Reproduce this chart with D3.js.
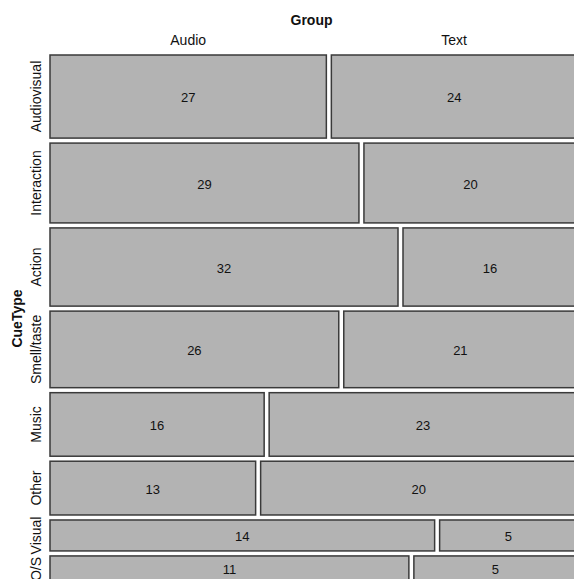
<!DOCTYPE html>
<html>
<head>
<meta charset="utf-8">
<script src="https://cdn.jsdelivr.net/npm/d3@7"></script>
<style>
  body { margin: 0; background: #fff; }
  svg text { font-family: "Liberation Sans", Arial, sans-serif; fill: #111; }
</style>
</head>
<body>
<div id="chart"></div>
<script>
// mosaic data: CueType x Group
var cueTypes = ["Audiovisual", "Interaction", "Action", "Smell/taste", "Music", "Other", "Visual", "O/S"];
var groups = ["Audio", "Text"];
var audioCounts = [27, 29, 32, 26, 16, 13, 14, 11];
var textCounts = [24, 20, 16, 21, 23, 20, 5, 5];

function drawMosaic() {
    var w = 574, h = 579;
    var mLeft = 50, mTop = 55, mRight = 577, mBottom = 582;
    var gap = 5;

    var svg = d3.select("#chart").append("svg").attr("width", w).attr("height", h);

    var rows = cueTypes.map(function (c, i) {
        return { name: c, audio: audioCounts[i], text: textCounts[i], total: audioCounts[i] + textCounts[i] };
    });
    var grand = d3.sum(rows, function (d) { return d.total; });

    var yS = d3.scaleLinear().domain([0, grand]).range([0, (mBottom - mTop) - gap * (rows.length - 1)]);
    var xS = d3.scaleLinear().domain([0, 1]).range([0, (mRight - mLeft) - gap]);

    var cum = 0;
    rows.forEach(function (d, i) {
        d.y = mTop + yS(cum) + i * gap;
        d.h = yS(d.total);
        cum += d.total;
    });

    var cells = [];
    rows.forEach(function (d) {
        var aw = xS(d.audio / d.total);
        cells.push({ row: d, group: groups[0], value: d.audio, x: mLeft, w: aw });
        cells.push({ row: d, group: groups[1], value: d.text, x: mLeft + aw + gap, w: xS(d.text / d.total) });
    });

    svg.selectAll("rect.cell").data(cells).enter().append("rect")
        .attr("class", "cell")
        .attr("x", function (d) { return d.x; })
        .attr("y", function (d) { return d.row.y; })
        .attr("width", function (d) { return d.w; })
        .attr("height", function (d) { return d.row.h; })
        .attr("fill", "#b3b3b3")
        .attr("stroke", "#3a3a3a")
        .attr("stroke-width", 1.5);

    svg.selectAll("text.val").data(cells).enter().append("text")
        .attr("class", "val")
        .attr("x", function (d) { return d.x + d.w / 2; })
        .attr("y", function (d) { return d.row.y + d.row.h / 2 + 1; })
        .attr("text-anchor", "middle")
        .attr("dominant-baseline", "central")
        .attr("font-size", 13)
        .text(function (d) { return d.value; });

    // top labels (placed over the first row's split)
    svg.append("text")
        .attr("x", (mLeft + mRight) / 2 - 2).attr("y", 25)
        .attr("text-anchor", "middle").attr("font-size", 14).attr("font-weight", "bold")
        .text("Group");

    var firstCells = cells.filter(function (d) { return d.row === rows[0]; });
    svg.selectAll("text.grp").data(firstCells).enter().append("text")
        .attr("class", "grp")
        .attr("x", function (d) { return d.x + d.w / 2; })
        .attr("y", 45)
        .attr("text-anchor", "middle").attr("font-size", 14)
        .text(function (d) { return d.group; });

    // left labels
    svg.append("text")
        .attr("transform", "translate(17," + (mTop + mBottom) / 2 + ") rotate(-90)")
        .attr("text-anchor", "middle").attr("dominant-baseline", "central")
        .attr("font-size", 14).attr("font-weight", "bold")
        .text("CueType");

    svg.selectAll("text.cue").data(rows).enter().append("text")
        .attr("class", "cue")
        .attr("transform", function (d) { return "translate(36," + (d.y + d.h / 2) + ") rotate(-90)"; })
        .attr("text-anchor", "middle").attr("dominant-baseline", "central")
        .attr("font-size", 14)
        .text(function (d) { return d.name; });
}

drawMosaic();
</script>
</body>
</html>
